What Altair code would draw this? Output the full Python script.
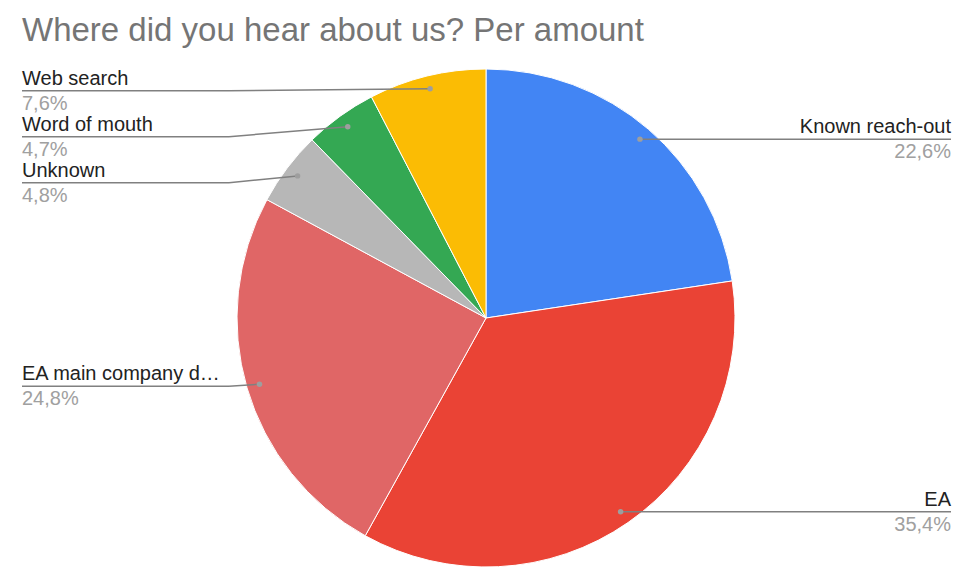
import altair as alt
import pandas as pd

categories = ["Known reach-out", "EA", "EA main company d…", "Unknown", "Word of mouth", "Web search"]
percents = [22.6, 35.4, 24.8, 4.8, 4.7, 7.6]
colors = ["#4285F4", "#EA4335", "#E06666", "#B7B7B7", "#34A853", "#FBBC04"]
title_text = "Where did you hear about us? Per amount"

W, H = 953, 563
CX, CY, R, RD = 478, 310, 249, 236
RIGHT_X, LEFT_X = 943, 14
ELBOW_LEFT = 221
GAP = 46
FONT = "Liberation Sans"

df = pd.DataFrame({"cat": categories, "pct": percents, "idx": list(range(len(categories)))})

xs = alt.Scale(domain=[0, W], nice=False, zero=False)
ys = alt.Scale(domain=[0, H], nice=False, zero=False, reverse=True)

base = alt.Chart(df)

pie = base.mark_arc(outerRadius=R, stroke="white", strokeWidth=1).encode(
    theta=alt.Theta("pct:Q", stack=True),
    color=alt.Color("cat:N", scale=alt.Scale(domain=categories, range=colors), legend=None),
    order=alt.Order("idx:Q"),
    x=alt.value(CX),
    y=alt.value(CY),
)

geo = base.transform_window(
    cum="sum(pct)", sort=[alt.SortField("idx")], frame=[None, 0]
).transform_joinaggregate(
    total="sum(pct)"
).transform_calculate(
    mid="2*PI*(datum.cum - datum.pct/2)/datum.total"
).transform_calculate(
    px=f"{CX} + {RD}*sin(datum.mid)",
    py=f"{CY} - {RD}*cos(datum.mid)",
    side="sin(datum.mid) > 0 ? 'right' : 'left'",
    label="replace(format(datum.pct, '.1f'), '.', ',') + '%'",
).transform_window(
    rn="row_number()", groupby=["side"], sort=[alt.SortField("py")]
).transform_calculate(
    adj=f"datum.py - {GAP}*(datum.rn - 1)"
).transform_window(
    cmax="max(adj)", groupby=["side"], sort=[alt.SortField("py")], frame=[None, 0]
).transform_calculate(
    ly=f"{GAP}*(datum.rn - 1) + datum.cmax + (datum.side == 'left' ? 2 : 0)",
    lx=f"datum.side == 'right' ? {RIGHT_X} : {LEFT_X}",
    ex=f"datum.side == 'right' ? datum.px : min({ELBOW_LEFT}, datum.px)",
).transform_calculate(
    ny="datum.ly - 6",
    py2="datum.ly + 19",
)

elbow = geo.mark_rule(color="#808080", strokeWidth=1.5).encode(
    x=alt.X("px:Q", scale=xs, axis=None),
    y=alt.Y("py:Q", scale=ys, axis=None),
    x2="ex:Q",
    y2="ly:Q",
)

lines = geo.mark_rule(color="#808080", strokeWidth=1.5).encode(
    x=alt.X("ex:Q", scale=xs, axis=None),
    x2="lx:Q",
    y=alt.Y("ly:Q", scale=ys, axis=None),
)

dots = geo.mark_circle(size=30, color="#9E9E9E", opacity=1).encode(
    x=alt.X("px:Q", scale=xs, axis=None),
    y=alt.Y("py:Q", scale=ys, axis=None),
)

def labels(side, align):
    g = geo.transform_filter(f"datum.side == '{side}'")
    names = g.mark_text(align=align, baseline="alphabetic", font=FONT, fontSize=20, color="#222222").encode(
        x=alt.X("lx:Q", scale=xs, axis=None),
        y=alt.Y("ny:Q", scale=ys, axis=None),
        text="cat:N",
    )
    pcts = g.mark_text(align=align, baseline="alphabetic", font=FONT, fontSize=20, color="#A0A0A0").encode(
        x=alt.X("lx:Q", scale=xs, axis=None),
        y=alt.Y("py2:Q", scale=ys, axis=None),
        text="label:N",
    )
    return names + pcts

title = alt.Chart(pd.DataFrame({"t": [title_text]})).mark_text(
    align="left", baseline="alphabetic", font=FONT, fontSize=33, color="#757575"
).encode(
    x=alt.value(14),
    y=alt.value(33),
    text="t:N",
)

chart = alt.layer(pie, elbow, lines, dots, labels("right", "right"), labels("left", "left"), title).properties(
    width=W, height=H, autosize="none", padding=0
).configure_view(stroke=None)

chart.save("out.html", embed_options={"renderer": "svg", "actions": False})
